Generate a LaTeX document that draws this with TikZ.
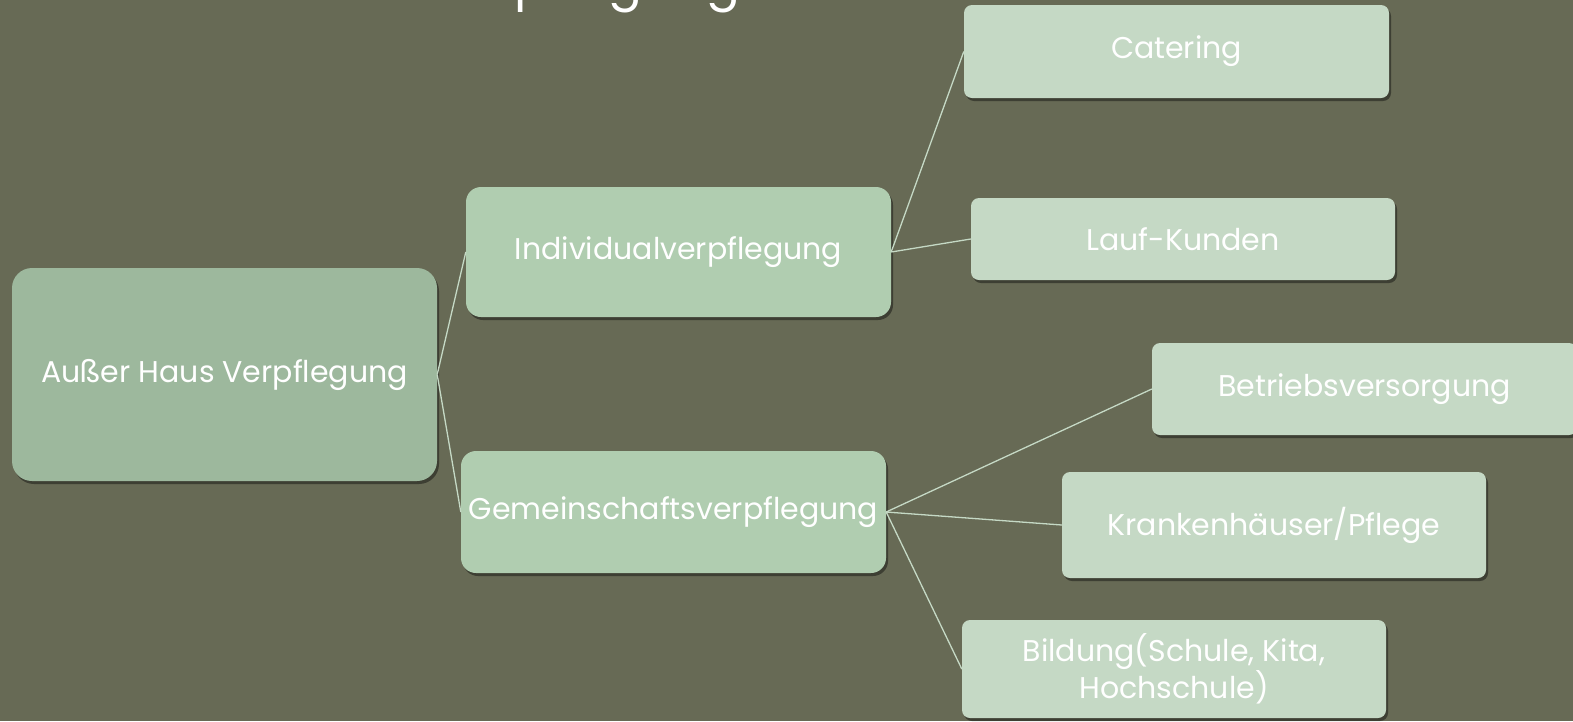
\documentclass[tikz,border=0pt]{standalone}
\usepackage{fontspec}
\setmainfont{Poppins}
\usetikzlibrary{shadows}
\definecolor{slidebg}{RGB}{103,106,85}
\definecolor{rootgreen}{RGB}{157,184,157}
\definecolor{midgreen}{RGB}{176,205,176}
\definecolor{leafgreen}{RGB}{197,217,197}
\tikzset{
  box/.style={text=white, align=center, inner sep=0pt, font=\fontsize{30}{36}\selectfont,
    drop shadow={shadow xshift=2pt, shadow yshift=-3pt, fill=black, opacity=0.4}},
  rootbox/.style={box, fill=rootgreen, rounded corners=20pt},
  midbox/.style={box, fill=midgreen, rounded corners=15pt},
  leafbox/.style={box, fill=leafgreen, rounded corners=8pt},
  link/.style={draw=leafgreen, line width=1.3pt},
}
\begin{document}
\begin{tikzpicture}[x=1pt, y=-1pt]
                    % Background
                    \fill[slidebg] (0,0) rectangle (1573,721);
                    \useasboundingbox (0,0) rectangle (1573,721);
                    % Title (cut off at the top)
                    \node[text=white, anchor=base east, inner sep=0pt, font=\fontsize{50}{60}\selectfont]
                       (title) at (740,-0.5) {Außer Haus Verpflegung};
                    % Root
                    \node[rootbox, minimum width=425pt, minimum height=213pt]
                       (root) at (224.5,374.5) {Außer Haus Verpflegung};
                    % Second level
                    \node[midbox, minimum width=425pt, minimum height=130pt]
                       (indiv) at (678.5,252) {Individualverpflegung};
                    \node[midbox, minimum width=425pt, minimum height=122pt]
                       (gemein) at (673.5,512) {Gemeinschaftsverpflegung};
                    % Third level
                    \node[leafbox, minimum width=425pt, minimum height=93pt]
                       (catering) at (1176.5,51.5) {Catering};
                    \node[leafbox, minimum width=424pt, minimum height=82pt]
                       (lauf) at (1183,239) {Lauf-Kunden};
                    \node[leafbox, minimum width=425pt, minimum height=92pt]
                       (betrieb) at (1364.5,389) {Betriebsversorgung};
                    \node[leafbox, minimum width=424pt, minimum height=106pt]
                       (kranken) at (1274,525) {Krankenhäuser/Pflege};
                    \node[leafbox, minimum width=424pt, minimum height=98pt]
                       (bildung) at (1174,669) {Bildung(Schule, Kita,\\Hochschule)};
                    % Connectors
                    \draw[link] (root.east) -- (indiv.west);
                    \draw[link] (root.east) -- (gemein.west);
                    \draw[link] (indiv.east) -- (catering.west);
                    \draw[link] (indiv.east) -- (lauf.west);
                    \draw[link] (gemein.east) -- (betrieb.west);
                    \draw[link] (gemein.east) -- (kranken.west);
                    \draw[link] (gemein.east) -- (bildung.west);
\end{tikzpicture}
\end{document}
